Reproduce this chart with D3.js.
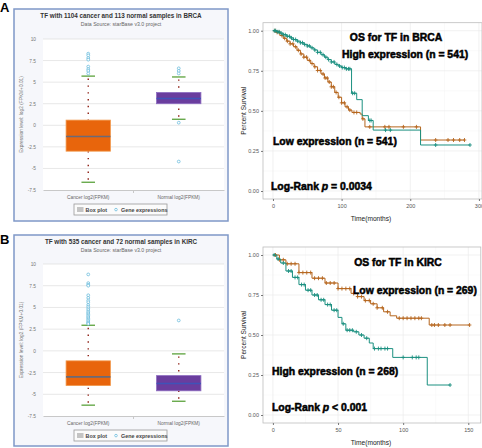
<!DOCTYPE html>
<html><head><meta charset="utf-8">
<script src="https://cdn.jsdelivr.net/npm/d3@7"></script>
<style>body{margin:0;background:#fff}svg{display:block}</style>
</head><body>
<svg id="c" width="482" height="448"></svg>
<script>
// ---------------- DATA ----------------
const boxCategories = ["Cancer log2(FPKM)", "Normal log2(FPKM)"];
const boxTicks = [-7.5, -5, -2.5, 0, 2.5, 5, 7.5, 10];

const brcaTitle = "TF with 1104 cancer and 113 normal samples in BRCA";
const brcaQ1 = [-3.0, 2.5];
const brcaMedian = [-1.3, 3.1];
const brcaQ3 = [0.6, 3.8];
const brcaLow = [-6.6, 0.7];
const brcaHigh = [5.7, 5.6];
const brcaOutliers = [[8.3, 8.1, 7.8, 7.6, 6.8, 6.5, 6.3, 6.0], [6.6, 6.3, 6.0, 0.3, -4.2]];

const kircTitle = "TF with 535 cancer and 72 normal samples in KIRC";
const kircQ1 = [-4.0, -4.6];
const kircMedian = [-3.0, -3.75];
const kircQ3 = [-1.15, -2.85];
const kircLow = [-6.25, -5.8];
const kircHigh = [2.95, -0.35];
const kircOutliers = [[8.8, 7.8, 7.6, 7.5, 6.4, 6.1, 5.8, 5.6, 5.3, 5.1, 4.9, 4.7, 4.5, 4.35, 4.2, 4.05, 3.9, 3.75, 3.6, 3.45, 3.3, 3.2, 3.1], [3.5]];

const kmYTicks = [0, 0.25, 0.5, 0.75, 1.0];

// BRCA survival (months, survival probability)
const brcaXTicks = [0, 100, 200, 300];
const brcaHighTime = [0, 5, 10, 15, 20, 25, 30, 35, 40, 45, 50, 55, 60, 65, 70, 75, 80, 85, 90, 95, 100, 106, 114.5, 122, 130, 139, 146, 215, 287];
const brcaHighSurv = [1.0, 0.993, 0.985, 0.975, 0.965, 0.955, 0.945, 0.935, 0.925, 0.915, 0.905, 0.893, 0.88, 0.865, 0.85, 0.835, 0.82, 0.805, 0.79, 0.78, 0.77, 0.762, 0.61, 0.57, 0.47, 0.44, 0.38, 0.287, 0.287];
const brcaHighCensor = [2, 4, 7, 9, 12, 15, 18, 21, 24, 27, 30, 33, 36, 40, 43, 46, 50, 53, 57, 61, 65, 69, 73, 77, 81, 85, 89, 93, 97, 101, 104, 107, 110, 112, 116, 119, 141, 143, 164, 171, 237, 287];
const brcaLowTime = [0, 5, 10, 15, 20, 25, 30, 35, 40, 45, 50, 55, 60, 65, 70, 75, 80, 85, 90, 95, 100, 105, 110, 115, 127, 130, 134, 215, 279];
const brcaLowSurv = [1.0, 0.99, 0.97, 0.953, 0.935, 0.918, 0.9, 0.878, 0.855, 0.835, 0.815, 0.795, 0.775, 0.752, 0.73, 0.705, 0.68, 0.65, 0.615, 0.585, 0.55, 0.525, 0.505, 0.49, 0.48, 0.45, 0.40, 0.318, 0.318];
const brcaLowCensor = [3, 6, 9, 13, 17, 21, 25, 29, 33, 37, 41, 45, 49, 53, 57, 61, 65, 69, 73, 76, 79, 82, 85, 88, 92, 96, 100, 104, 108, 112, 118, 122, 131, 141, 163, 169, 190, 209, 237, 255, 263, 272, 279];

// KIRC survival
const kircXTicks = [0, 50, 100, 150];
const kircHighTime = [0, 3, 6, 10, 15, 20, 25, 30, 35, 40, 45, 50, 53, 56, 62, 66, 70, 74, 77, 92, 118.5, 136];
const kircHighSurv = [1.0, 0.975, 0.95, 0.9, 0.86, 0.815, 0.78, 0.75, 0.72, 0.69, 0.655, 0.61, 0.57, 0.53, 0.52, 0.5, 0.48, 0.45, 0.415, 0.36, 0.1875, 0.1875];
const kircHighCensor = [1, 4, 8, 12, 14, 17, 19, 22, 24, 27, 29, 32, 34, 37, 39, 42, 44, 47, 49, 54, 57, 59, 61, 64, 68, 72, 78, 81, 83, 86, 88, 100, 107, 110, 112, 136];
const kircLowTime = [0, 5, 10, 20, 30, 40, 50, 60, 65, 70, 75, 80, 85, 90, 95, 120, 151];
const kircLowSurv = [1.0, 0.97, 0.945, 0.89, 0.855, 0.825, 0.79, 0.76, 0.74, 0.715, 0.695, 0.67, 0.645, 0.62, 0.605, 0.5625, 0.5625];
const kircLowCensor = [2, 5, 8, 11, 14, 17, 20, 23, 26, 29, 32, 35, 38, 41, 44, 47, 50, 53, 56, 59, 62, 65, 68, 71, 74, 77, 80, 84, 88, 97, 100, 103, 106, 109, 112, 114, 122, 124, 127, 132, 136, 151];

// ---------------- DRAW ----------------
const svg = d3.select("#c");
const FONT = "'Liberation Sans', Arial, sans-serif";

function boxPanel(o) {
  const g = svg.append("g");
  g.append("rect").attr("x", o.fx).attr("y", o.fy).attr("width", o.fw).attr("height", o.fh)
    .attr("fill", "#f6f7fb").attr("stroke", "#7f98c8").attr("stroke-width", 1.5);
  const y = d3.scaleLinear().domain([-7.5, 10]).range([o.yb, o.yt]);
  const x = d3.scaleBand().domain(boxCategories).range([o.xl, o.xr]);
  g.append("rect").attr("x", o.xl).attr("y", o.yt).attr("width", o.xr - o.xl).attr("height", o.yb - o.yt).attr("fill", "#fff");
  g.append("text").attr("x", 121).attr("y", o.titleY).attr("text-anchor", "middle")
    .attr("font-family", FONT).attr("font-weight", "bold").attr("font-size", 6.3).attr("fill", "#333").text(o.title);
  g.append("text").attr("x", 121).attr("y", o.titleY + 8.3).attr("text-anchor", "middle")
    .attr("font-family", FONT).attr("font-size", 5.2).attr("fill", "#666").text("Data Source: starBase v3.0 project");
  // gridlines
  g.selectAll(".gl").data(boxTicks.slice(1)).enter().append("line")
    .attr("x1", o.xl).attr("x2", o.xr).attr("y1", d => y(d)).attr("y2", d => y(d))
    .attr("stroke", "#dcdcdc").attr("stroke-width", 0.7);
  const ax = g.append("g").attr("transform", `translate(${o.xl},0)`)
    .call(d3.axisLeft(y).tickValues(boxTicks).tickSize(0).tickPadding(7).tickFormat(d => d));
  ax.select(".domain").remove();
  ax.selectAll("text").attr("font-family", FONT).attr("font-size", 4.8).attr("fill", "#777");
  const bx = g.append("g").attr("transform", `translate(0,${o.yb})`)
    .call(d3.axisBottom(x).tickSize(0).tickPadding(6));
  bx.select(".domain").attr("stroke", "#c8c8c8");
  bx.selectAll("text").attr("font-family", FONT).attr("font-size", 4.8).attr("fill", "#666");
  g.append("line").attr("x1", (o.xl + o.xr) / 2).attr("x2", (o.xl + o.xr) / 2).attr("y1", o.yb).attr("y2", o.yb + 3).attr("stroke", "#c8c8c8");
  g.append("text").attr("transform", `translate(${o.fx + 8.5},${(o.yt + o.yb) / 2}) rotate(-90)`)
    .attr("text-anchor", "middle").attr("font-family", FONT).attr("font-size", 4.8).attr("fill", "#777")
    .text("Expression level: log2 (FPKM+0.01)");
  const bw = x.bandwidth() * 0.49, cw = x.bandwidth() * 0.15;
  const fills = ["#e8650c", "#6a3d9e"], strokes = ["#f29a4e", "#8c6cc0"], meds = ["#6a6a78", "#3f53b8"];
  boxCategories.forEach((c, i) => {
    const cx = x(c) + x.bandwidth() / 2;
    [[o.high[i], o.q3[i]], [o.low[i], o.q1[i]]].forEach(([a, b]) => {
      g.append("line").attr("x1", cx).attr("x2", cx).attr("y1", y(a)).attr("y2", y(b))
        .attr("stroke", "#8e1f14").attr("stroke-width", 1.4).attr("stroke-dasharray", "1.4,5.4").attr("stroke-dashoffset", -2.5);
    });
    g.append("rect").attr("x", cx - bw / 2).attr("y", y(o.q3[i])).attr("width", bw).attr("height", y(o.q1[i]) - y(o.q3[i]))
      .attr("fill", fills[i]).attr("stroke", strokes[i]).attr("stroke-width", 0.8);
    g.append("line").attr("x1", cx - bw / 2).attr("x2", cx + bw / 2).attr("y1", y(o.median[i])).attr("y2", y(o.median[i]))
      .attr("stroke", meds[i]).attr("stroke-width", 1.6);
    [o.high[i], o.low[i]].forEach(v => {
      g.append("line").attr("x1", cx - cw / 2).attr("x2", cx + cw / 2).attr("y1", y(v)).attr("y2", y(v))
        .attr("stroke", "#4e9a2c").attr("stroke-width", 1.2);
    });
    g.selectAll(null).data(o.outliers[i]).enter().append("circle")
      .attr("cx", cx).attr("cy", d => y(d)).attr("r", 1.4)
      .attr("fill", "#fff").attr("stroke", "#5ab4d8").attr("stroke-width", 0.7);
  });
  const ly = o.legY;
  g.append("rect").attr("x", 74).attr("y", ly).attr("width", 93).attr("height", 11)
    .attr("fill", "#fbfbfb").attr("stroke", "#9a9a9a").attr("stroke-width", 0.8);
  g.append("rect").attr("x", 77).attr("y", ly + 3).attr("width", 6.5).attr("height", 5).attr("fill", "#c4c4c4");
  g.append("text").attr("x", 85.5).attr("y", ly + 7.6).attr("font-family", FONT).attr("font-size", 5.4).attr("font-weight", "bold").attr("fill", "#444").text("Box plot");
  g.append("circle").attr("cx", 116).attr("cy", ly + 5.6).attr("r", 1.3).attr("fill", "#fff").attr("stroke", "#5ab4d8").attr("stroke-width", 0.7);
  g.append("text").attr("x", 121).attr("y", ly + 7.6).attr("font-family", FONT).attr("font-size", 5.4).attr("font-weight", "bold").attr("fill", "#444").text("Gene expressions");
}

function kmPanel(o) {
  const g = svg.append("g");
  const x = d3.scaleLinear().domain(o.xd).range([o.xl, o.xr]);
  const y = d3.scaleLinear().domain([-0.05, 1.05]).range([o.yb, o.yt]);
  g.append("rect").attr("x", o.xl).attr("y", o.yt).attr("width", o.xr - o.xl).attr("height", o.yb - o.yt).attr("fill", "#fff");
  const xm = o.xTicks.slice(0, -1).map((d, i) => (d + o.xTicks[i + 1]) / 2);
  const ym = kmYTicks.slice(0, -1).map((d, i) => (d + kmYTicks[i + 1]) / 2);
  g.selectAll(null).data(xm).enter().append("line").attr("x1", d => x(d)).attr("x2", d => x(d)).attr("y1", o.yt).attr("y2", o.yb).attr("stroke", "#f4f4f4").attr("stroke-width", 0.5);
  g.selectAll(null).data(ym).enter().append("line").attr("y1", d => y(d)).attr("y2", d => y(d)).attr("x1", o.xl).attr("x2", o.xr).attr("stroke", "#f4f4f4").attr("stroke-width", 0.5);
  g.selectAll(null).data(o.xTicks).enter().append("line").attr("x1", d => x(d)).attr("x2", d => x(d)).attr("y1", o.yt).attr("y2", o.yb).attr("stroke", "#ebebeb").attr("stroke-width", 0.7);
  g.selectAll(null).data(kmYTicks).enter().append("line").attr("y1", d => y(d)).attr("y2", d => y(d)).attr("x1", o.xl).attr("x2", o.xr).attr("stroke", "#ebebeb").attr("stroke-width", 0.7);
  g.append("rect").attr("x", o.xl).attr("y", o.yt).attr("width", o.xr - o.xl).attr("height", o.yb - o.yt)
    .attr("fill", "none").attr("stroke", "#bdbdbd").attr("stroke-width", 0.8);
  const ax = g.append("g").attr("transform", `translate(${o.xl},0)`)
    .call(d3.axisLeft(y).tickValues(kmYTicks).tickSize(2).tickPadding(2).tickFormat(d3.format(".2f")));
  ax.select(".domain").remove();
  ax.selectAll("line").attr("stroke", "#777");
  ax.selectAll("text").attr("font-family", FONT).attr("font-size", 5.5).attr("fill", "#555");
  const bx = g.append("g").attr("transform", `translate(0,${o.yb})`)
    .call(d3.axisBottom(x).tickValues(o.xTicks).tickSize(2).tickPadding(3));
  bx.select(".domain").remove();
  bx.selectAll("line").attr("stroke", "#777");
  bx.selectAll("text").attr("font-family", FONT).attr("font-size", 5.5).attr("fill", "#555");
  g.append("text").attr("transform", `translate(${o.xl - 17},${(o.yt + o.yb) / 2}) rotate(-90)`)
    .attr("text-anchor", "middle").attr("font-family", FONT).attr("font-size", 6.6).attr("fill", "#222").text("Percent Survival");
  g.append("text").attr("x", 371).attr("y", o.yb + 22).attr("text-anchor", "middle")
    .attr("font-family", FONT).attr("font-size", 6.6).attr("fill", "#222").text("Time(months)");
  const line = d3.line().curve(d3.curveStepAfter).x(d => x(d[0])).y(d => y(d[1]));
  o.series.forEach(s => {
    const pts = s.t.map((t, i) => [t, s.s[i]]);
    g.append("path").attr("d", line(pts)).attr("fill", "none").attr("stroke", s.color).attr("stroke-width", 1);
    const survAt = t => { let v = s.s[0]; s.t.forEach((tt, i) => { if (tt <= t) v = s.s[i]; }); return v; };
    s.c.forEach(t => {
      const cx = x(t), cy = y(survAt(t));
      g.append("path").attr("d", `M${cx - 1.8},${cy}H${cx + 1.8}M${cx},${cy - 2}V${cy + 2}`)
        .attr("stroke", s.color).attr("stroke-width", 0.9);
    });
  });
  o.labels.forEach(l => {
    const t = g.append("text").attr("x", l.x).attr("y", l.y).attr("font-family", FONT).attr("font-weight", "bold")
      .attr("font-size", 10.4).attr("fill", "#000").attr("stroke", "#000").attr("stroke-width", 0.5)
      .attr("text-anchor", l.anchor || "start");
    if (l.p) {
      t.append("tspan").text(l.p[0]);
      t.append("tspan").attr("font-style", "italic").text("p");
      t.append("tspan").text(l.p[1]);
    } else t.text(l.text);
  });
}

svg.append("text").attr("x", 0).attr("y", 12).attr("font-family", FONT).attr("font-weight", "bold").attr("font-size", 13).text("A");
svg.append("text").attr("x", 0).attr("y", 244).attr("font-family", FONT).attr("font-weight", "bold").attr("font-size", 13).text("B");

boxPanel({fx: 14, fy: 9, fw: 214, fh: 212, xl: 43, xr: 224, yt: 39, yb: 190, titleY: 17.5, legY: 204,
  title: brcaTitle, q1: brcaQ1, median: brcaMedian, q3: brcaQ3, low: brcaLow, high: brcaHigh, outliers: brcaOutliers});
boxPanel({fx: 14, fy: 235, fw: 214, fh: 211, xl: 43, xr: 224, yt: 264, yb: 416, titleY: 243.5, legY: 430,
  title: kircTitle, q1: kircQ1, median: kircMedian, q3: kircQ3, low: kircLow, high: kircHigh, outliers: kircOutliers});

kmPanel({xd: [-14.5, 304.5], xl: 263, xr: 482, yt: 22.7, yb: 199, xTicks: brcaXTicks,
  series: [
    {t: brcaLowTime, s: brcaLowSurv, c: brcaLowCensor, color: "#b5651d"},
    {t: brcaHighTime, s: brcaHighSurv, c: brcaHighCensor, color: "#1b9080"}],
  labels: [
    {text: "OS for TF in BRCA", x: 396, y: 41, anchor: "middle"},
    {text: "High expression (n = 541)", x: 342, y: 57.5},
    {text: "Low expression (n = 541)", x: 273, y: 144.5},
    {p: ["Log-Rank ", " = 0.0034"], x: 271, y: 190}]});

kmPanel({xd: [-7.6, 159.6], xl: 263, xr: 480.8, yt: 247, yb: 423, xTicks: kircXTicks,
  series: [
    {t: kircLowTime, s: kircLowSurv, c: kircLowCensor, color: "#b5651d"},
    {t: kircHighTime, s: kircHighSurv, c: kircHighCensor, color: "#1b9080"}],
  labels: [
    {text: "OS for TF in KIRC", x: 398, y: 265.5, anchor: "middle"},
    {text: "Low expression (n = 269)", x: 353, y: 293.5},
    {text: "High expression (n = 268)", x: 272, y: 375},
    {p: ["Log-Rank ", " < 0.001"], x: 272, y: 411}]});
</script>
</body></html>
